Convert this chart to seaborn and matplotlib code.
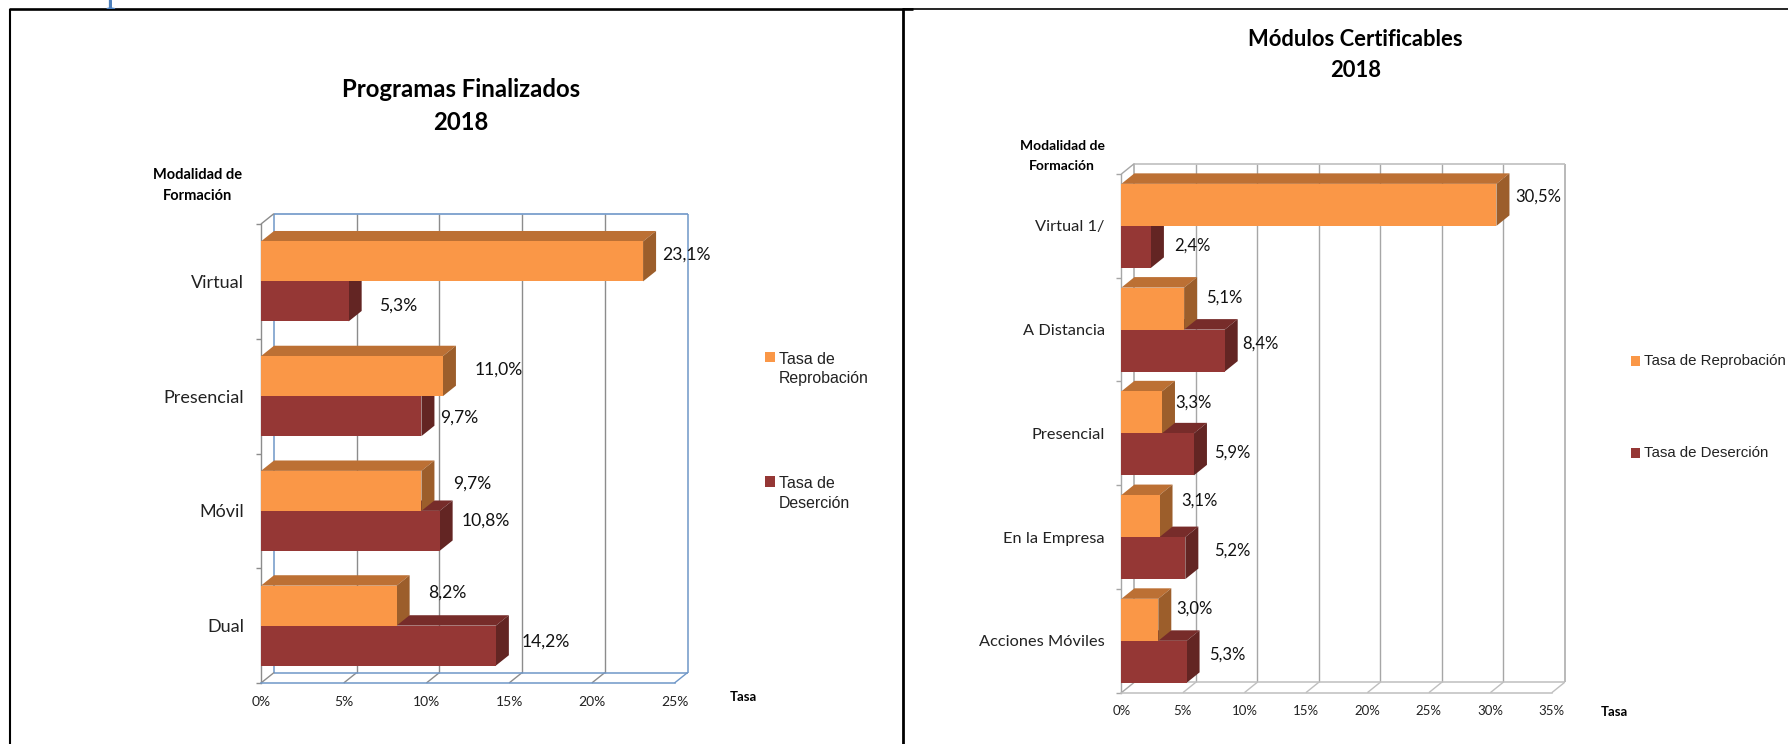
import matplotlib
matplotlib.use("Agg")
import matplotlib.pyplot as plt
from matplotlib.lines import Line2D
from matplotlib.offsetbox import HPacker
import pandas as pd
import seaborn as sns

# ---------- data ----------
series = ["Tasa de Reprobación", "Tasa de Deserción"]

pf_title = "Programas Finalizados\n2018"
pf_categories = ["Virtual", "Presencial", "Móvil", "Dual"]
pf_reprobacion = [23.1, 11.0, 9.7, 8.2]
pf_desercion = [5.3, 9.7, 10.8, 14.2]
pf_ticks = [0, 5, 10, 15, 20, 25]
pf_legend = ["Tasa de\nReprobación", "Tasa de\nDeserción"]

mc_title = "Módulos Certificables\n2018"
mc_categories = ["Virtual 1/", "A Distancia", "Presencial", "En la Empresa", "Acciones Móviles"]
mc_reprobacion = [30.5, 5.1, 3.3, 3.1, 3.0]
mc_desercion = [2.4, 8.4, 5.9, 5.2, 5.3]
mc_ticks = [0, 5, 10, 15, 20, 25, 30, 35]
mc_legend = ["Tasa de Reprobación", "Tasa de Deserción"]

ylabel_text = "Modalidad de\nFormación"
xlabel_text = "Tasa"

# ---------- style / layout ----------
W, H = 1788, 744
ORANGE = ("#FA9747", "#BC7034", "#9C5E2B")   # front, top, side
MAROON = ("#953735", "#772C2A", "#632523")
FONT = "Lato"
LEG_FONT = "Liberation Sans"

sns.set_theme(style="white")
plt.rcParams["font.family"] = [FONT, "DejaVu Sans"]

fig = plt.figure(figsize=(W / 100, H / 100), dpi=100, facecolor="white")


def frac(px, py):
    return px / W, 1 - py / H


def panel(box, depth_px, title, title_px, title_size, categories, rep, des, ticks, legend_labels,
          bar_width, label_off, label_size, cat_size, tick_size, ylab_px, ylab_size, xlab_px,
          legend_px, legend_space, legend_size, wall, box_col, grid_col, floor_col):
    x0, x1, ytop, ybot = box
    ax = fig.add_axes([x0 / W, 1 - ybot / H, (x1 - x0) / W, (ybot - ytop) / H])
    n = len(categories)
    df = pd.DataFrame({
        "Modalidad": categories * 2,
        "Tasa": list(rep) + list(des),
        "Serie": [series[0]] * n + [series[1]] * n,
    })
    sns.barplot(data=df, y="Modalidad", x="Tasa", hue="Serie", order=categories,
                hue_order=series, palette=[ORANGE[0], MAROON[0]], saturation=1,
                width=bar_width, gap=0, orient="h", legend=False, ax=ax)
    ax.set_xlim(ticks[0], ticks[-1])
    ax.set_ylim(n - 0.5, -0.5)
    ppx = (x1 - x0) / (ticks[-1] - ticks[0])
    ppy = (ybot - ytop) / n
    dx, dy = depth_px[0] / ppx, depth_px[1] / ppy
    yt, yb = -0.5, n - 0.5

    # back wall + floor
    line = dict(clip_on=False, zorder=1, solid_capstyle="butt")
    for t in ticks[1:-1]:
        ax.plot([t + dx, t + dx], [yt - dy, yb - dy], color=grid_col, lw=1.0, **line)
        ax.plot([t, t + dx], [yb, yb - dy], color=floor_col, lw=1.0, **line)
    xa, xb = ticks[0], ticks[-1]
    ax.plot([xa + dx, xa + dx], [yt - dy, yb - dy], color=wall, lw=1.1, **line)
    ax.plot([xb + dx, xb + dx], [yt - dy, yb - dy], color=wall, lw=1.1, **line)
    ax.plot([xa + dx, xb + dx], [yt - dy, yt - dy], color=box_col, lw=1.2, **line)
    ax.plot([xa + dx, xb + dx], [yb - dy, yb - dy], color=box_col, lw=1.1, **line)
    ax.plot([xb, xb + dx], [yb, yb - dy], color=box_col, lw=1.0, **line)
    ax.plot([xa, xa + dx], [yb, yb - dy], color=grid_col, lw=1.0, **line)
    ax.plot([xa, xa + dx], [yt, yt - dy], color=grid_col, lw=1.0, **line)

    # 3-D faces derived from the seaborn bars
    for cont, cols, z in zip(ax.containers, (ORANGE, MAROON), (3.4, 3.0)):
        for bar in cont:
            bar.set_zorder(z + 0.1)
            bar.set_edgecolor("none")
            v, top, h = bar.get_width(), bar.get_y(), bar.get_height()
            bot = top + h
            ax.fill([0, v, v + dx, dx], [top, top, top - dy, top - dy],
                    color=cols[1], lw=0, clip_on=False, zorder=z)
            ax.fill([v, v + dx, v + dx, v], [top, top - dy, bot - dy, bot],
                    color=cols[2], lw=0, clip_on=False, zorder=z)

    # value labels
    for cont, offs in zip(ax.containers, label_off):
        for bar, (ox, oy) in zip(cont, offs):
            v = bar.get_width()
            ax.annotate(f"{v:.1f}%".replace(".", ","),
                        (v, bar.get_y() + bar.get_height() / 2),
                        xytext=(ox, -oy), textcoords="offset pixels",
                        ha="center", va="center", fontsize=label_size,
                        color="#111111", zorder=6, annotation_clip=False)

    # axes
    sns.despine(ax=ax, top=True, right=True)
    ax.spines["left"].set_color(grid_col)
    ax.spines["left"].set_linewidth(1.0)
    ax.spines["bottom"].set_color(box_col)
    ax.spines["bottom"].set_linewidth(1.1)
    ax.set_xticks(ticks, [f"{t}%" for t in ticks])
    ax.tick_params(axis="x", length=0, pad=9, labelsize=tick_size, labelcolor="#222222")
    ax.tick_params(axis="y", which="major", length=0, pad=12, labelsize=cat_size, labelcolor="#222222")
    ax.set_yticks([i - 0.5 for i in range(n + 1)], minor=True)
    ax.tick_params(axis="y", which="minor", length=3.5, width=1, color=grid_col, left=True)

    # titles
    ax.set_title(title, x=(title_px[0] - x0) / (x1 - x0), y=(ybot - title_px[1]) / (ybot - ytop),
                 fontsize=title_size, fontweight="bold", color="black", linespacing=1.55,
                 va="center", pad=0)
    ax.set_ylabel(ylabel_text, rotation=0, fontsize=ylab_size, fontweight="bold", color="black",
                  ha="center", va="center", linespacing=1.7)
    ax.yaxis.set_label_coords((ylab_px[0] - x0) / (x1 - x0), (ybot - ylab_px[1]) / (ybot - ytop))
    ax.set_xlabel(xlabel_text, fontsize=9.5, fontweight="bold", color="black", ha="center", va="center")
    ax.xaxis.set_label_coords((xlab_px[0] - x0) / (x1 - x0), (ybot - xlab_px[1]) / (ybot - ytop))

    # legend
    handles = [ax.containers[0], ax.containers[1]]
    leg = ax.legend(handles, legend_labels, loc="upper left",
                    bbox_to_anchor=frac(*legend_px), bbox_transform=fig.transFigure,
                    frameon=False, borderpad=0, borderaxespad=0, handlelength=0.6,
                    handleheight=0.6, handletextpad=0.3, labelspacing=legend_space,
                    prop={"family": LEG_FONT, "size": legend_size})
    for t in leg.get_texts():
        t.set_color("#222222")
        t.set_linespacing(1.35)
    for hp in leg.findobj(HPacker):
        hp.align = "center" if "\n" not in legend_labels[0] else "top"
    return ax


panel(box=(261, 674.5, 224, 683), depth_px=(13, 10.4), title=pf_title, title_px=(461, 106),
      title_size=17.2, categories=pf_categories, rep=pf_reprobacion, des=pf_desercion,
      ticks=pf_ticks, legend_labels=pf_legend, bar_width=0.697,
      label_off=([(43, -6.5), (56, -7), (50.6, -7), (50.4, -12.6)],
                 [(49.3, 4.5), (37.6, 2), (46.4, -10), (50, -3.6)]),
      label_size=12.6, cat_size=13, tick_size=10, ylab_px=(198, 185.5), ylab_size=10.5,
      xlab_px=(743, 696.7), legend_px=(765, 352), legend_space=5.7, legend_size=11.4,
      wall="#6F97C8", box_col="#6F97C8", grid_col="#8C8C8C", floor_col="#8C8C8C")

panel(box=(1121.4, 1551.8, 174, 692.7), depth_px=(13, 10.5), title=mc_title, title_px=(1355.3, 55),
      title_size=15.8, categories=mc_categories, rep=mc_reprobacion, des=mc_desercion,
      ticks=mc_ticks, legend_labels=mc_legend, bar_width=0.81,
      label_off=([(42.3, -8), (39.8, -11), (31.3, -9.5), (40.1, -15.3), (36.2, -10.8)],
                 [(41.3, -1), (36, -6.6), (38.4, -1.5), (47, -7), (40.7, -7)]),
      label_size=12, cat_size=11.8, tick_size=9.5, ylab_px=(1062, 156), ylab_size=10,
      xlab_px=(1614.7, 712.3), legend_px=(1630.5, 354), legend_space=5.2, legend_size=10.8,
      wall="#A6A6A6", box_col="#BFBFBF", grid_col="#A6A6A6", floor_col="#BFBFBF")

# page frame
def frame(p, q, lw):
    fig.add_artist(Line2D([p[0] / W, q[0] / W], [1 - p[1] / H, 1 - q[1] / H],
                          color="black", lw=lw, solid_capstyle="butt"))

frame((9, 9), (913, 9), 1.9)
frame((903, 8.5), (1788, 8.5), 1.2)
frame((10, 9), (10, 744), 1.5)
frame((903, 8), (903, 744), 2.0)

# remnant of text cut by the top edge
fig.text(105 / W, 1.0, "p", fontsize=28, family="Liberation Serif", color="#4F81BD",
         ha="left", va="baseline")

fig.savefig("out.png", dpi=100)
